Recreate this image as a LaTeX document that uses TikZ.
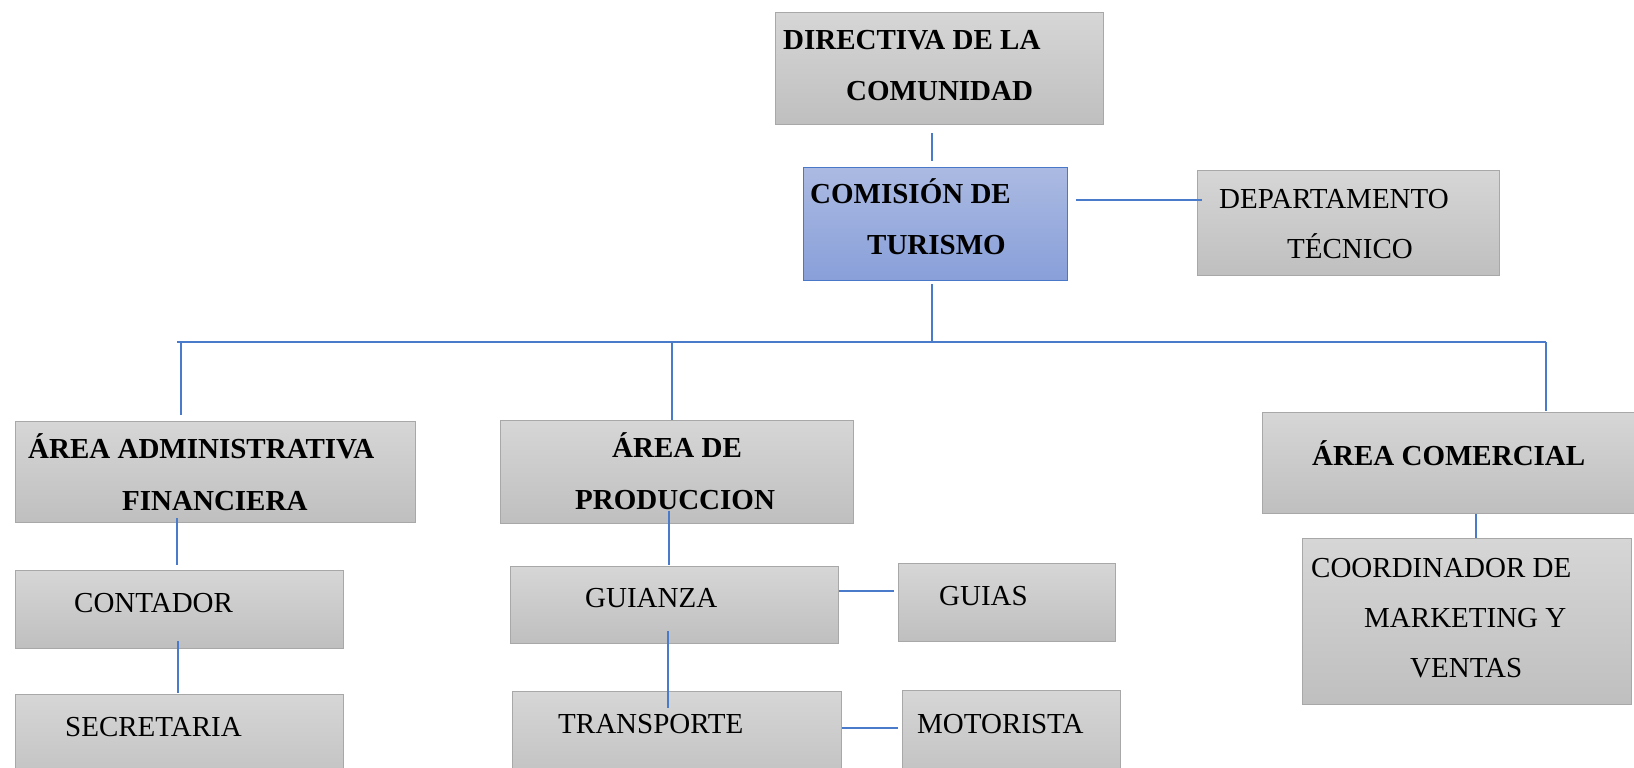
\documentclass[tikz,border=0pt]{standalone}
\usepackage{fontspec}
\setmainfont{Liberation Serif}
\begin{document}
\begin{tikzpicture}[x=1pt,y=-1pt,
  box/.style={rectangle, draw=boxline, line width=1.2pt, top color=graytop, bottom color=graybot, anchor=north west, inner sep=0pt},
  bluebox/.style={box, draw=blueline, top color=bluetop, bottom color=bluebot},
  txt/.style={anchor=base west, inner sep=0pt, font=\fontsize{29}{34}\selectfont},
  btxt/.style={txt, font=\fontsize{29}{34}\selectfont\bfseries},
  conn/.style={draw=connblue, line width=1.1pt}]
\definecolor{graytop}{HTML}{D6D6D6}
\definecolor{graybot}{HTML}{BFBFBF}
\definecolor{boxline}{HTML}{A8A8A8}
\definecolor{bluetop}{HTML}{ABBAE2}
\definecolor{bluebot}{HTML}{889FD9}
\definecolor{blueline}{HTML}{4A78C8}
\definecolor{connblue}{HTML}{4A7BCB}
\useasboundingbox (0,0) rectangle (1634,768);
\clip (0,0) rectangle (1634,768);
\fill[white] (0,0) rectangle (1634,768);
% boxes
\node[box, minimum width=328, minimum height=112] (dir) at (775,12) {};
\node[bluebox, minimum width=264, minimum height=113] (com) at (803,167) {};
\node[box, minimum width=302, minimum height=105] (dept) at (1197,170) {};
\node[box, minimum width=400, minimum height=101] (adm) at (15,421) {};
\node[box, minimum width=353, minimum height=103] (prod) at (500,420) {};
\node[box, minimum width=390, minimum height=101] (comer) at (1262,412) {};
\node[box, minimum width=329, minimum height=166] (coord) at (1302,538) {};
\node[box, minimum width=328, minimum height=78] (cont) at (15,570) {};
\node[box, minimum width=328, minimum height=100] (sec) at (15,694) {};
\node[box, minimum width=328, minimum height=77] (gui) at (510,566) {};
\node[box, minimum width=217, minimum height=78] (guias) at (898,563) {};
\node[box, minimum width=329, minimum height=100] (trans) at (512,691) {};
\node[box, minimum width=218, minimum height=100] (motor) at (902,690) {};
% texts
\node[btxt] (dir1) at (783,50) {DIRECTIVA DE LA};
\node[btxt] (dir2) at (846,100) {COMUNIDAD};
\node[btxt] (com1) at (810,203) {COMISIÓN DE};
\node[btxt] (com2) at (867,254) {TURISMO};
\node[txt] (dept1) at (1219,208) {DEPARTAMENTO};
\node[txt] (dept2) at (1287,258) {TÉCNICO};
\node[btxt] (adm1) at (28,458) {ÁREA ADMINISTRATIVA};
\node[btxt] (adm2) at (122,510) {FINANCIERA};
\node[btxt] (prod1) at (612,457) {ÁREA DE};
\node[btxt] (prod2) at (575,509) {PRODUCCION};
\node[btxt] (comer1) at (1312,465) {ÁREA COMERCIAL};
\node[txt] (coord1) at (1311,577) {COORDINADOR DE};
\node[txt] (coord2) at (1364,627) {MARKETING Y};
\node[txt] (coord3) at (1410,677) {VENTAS};
\node[txt] (cont1) at (74,612) {CONTADOR};
\node[txt] (sec1) at (65,736) {SECRETARIA};
\node[txt] (gui1) at (585,607) {GUIANZA};
\node[txt] (guias1) at (939,605) {GUIAS};
\node[txt] (trans1) at (558,733) {TRANSPORTE};
\node[txt] (motor1) at (917,733) {MOTORISTA};
% connectors
\coordinate (spine) at (932,0);
\coordinate (busL) at (177,342);
\coordinate (busR) at (1546,342);
\coordinate (b1) at (181,342);
\coordinate (b2) at (672,342);
\coordinate (c1) at (177,0);
\coordinate (c2) at (178,0);
\coordinate (c3) at (669,0);
\coordinate (c4) at (668,0);
\coordinate (c5) at (1476,0);
\coordinate (r1) at (0,591);
\coordinate (r2) at (0,728);
\coordinate (r3) at (0,200);
\draw[conn, shorten <=8pt, shorten >=6pt] (dir.south -| spine) -- (com.north -| spine);
\draw[conn, shorten <=3pt] (com.south -| spine) -- (spine |- busL);
\draw[conn] (busL) -- (busR);
\draw[conn, shorten >=6pt] (b1) -- (b1 |- adm.north);
\draw[conn] (b2) -- (b2 |- prod.north);
\draw[conn, shorten >=1pt] (busR) -- (busR |- comer.north);
\draw[conn, shorten <=8pt, shorten >=-5pt] (com.east |- r3) -- (dept.west |- r3);
\draw[conn, shorten <=-5pt, shorten >=5pt] (adm.south -| c1) -- (cont.north -| c1);
\draw[conn, shorten <=-8pt, shorten >=1pt] (cont.south -| c2) -- (sec.north -| c2);
\draw[conn, shorten <=-13pt, shorten >=1pt] (prod.south -| c3) -- (gui.north -| c3);
\draw[conn, shorten >=4pt] (gui.east |- r1) -- (guias.west |- r1);
\draw[conn, shorten <=-13pt, shorten >=-17pt] (gui.south -| c4) -- (trans.north -| c4);
\draw[conn, shorten >=4pt] (trans.east |- r2) -- (motor.west |- r2);
\draw[conn] (comer.south -| c5) -- (coord.north -| c5);
\end{tikzpicture}
\end{document}
